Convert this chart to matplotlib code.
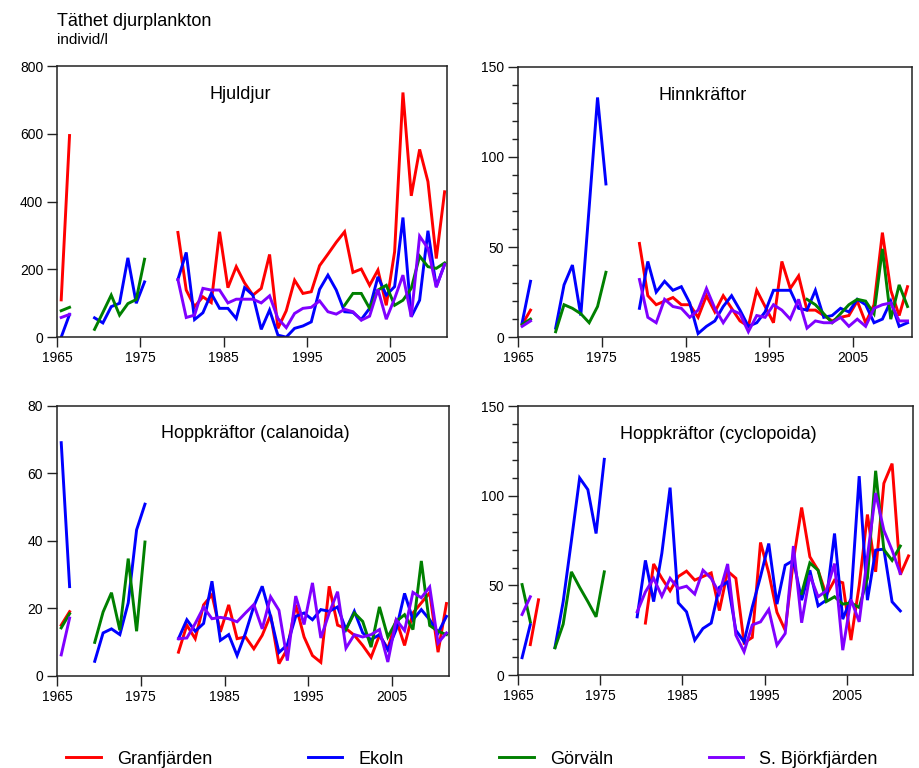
"""Zooplankton density in four Mälaren basins, 1965-2012.

Four panels (rotifers, cladocerans, calanoid and cyclopoid copepods), one line
per basin. Missing years are NaN so the series break into segments.
"""

import matplotlib.pyplot as plt
import numpy as np

plt.rcParams["font.family"] = ["Liberation Sans", "DejaVu Sans"]

n = np.nan

YEARS = np.arange(1965, 2013)
STATIONS = ["Granfjärden", "Ekoln", "Görväln", "S. Björkfjärden"]
COLORS = ["#ff0000", "#0000ff", "#008000", "#8000ff"]

# Hjuldjur (individ/l), 1965..2012
hjul_granfjarden = [
    110, 595, n, n, n, n, n, n, n, n,
    n, n, n, n, 309, 139, 90, 119, 102, 311,
    146, 208, 160, 124, 144, 244, 26, 78, 168, 129,
    134, 211, 245, 280, 311, 191, 201, 153, 198, 94,
    252, 722, 417, 554, 459, 232, 429, n,
]
hjul_ekoln = [
    0, 67, n, n, 57, 42, 90, 100, 234, 100,
    163, n, n, n, 170, 250, 52, 72, 129, 85,
    85, 55, 146, 124, 23, 80, 6, 0, 26, 33,
    45, 141, 183, 139, 75, 73, 52, 85, 178, 124,
    149, 353, 60, 109, 314, 149, 215, n,
]
hjul_gorvaln = [
    78, 88, n, n, 23, 73, 124, 65, 99, 111,
    230, n, n, n, n, n, n, n, n, n,
    n, n, n, n, n, n, n, n, n, n,
    n, n, n, n, 94, 129, 129, 85, 139, 153,
    94, 109, 144, 239, 208, 203, 219, n,
]
hjul_bjorkfjarden = [
    58, 67, n, n, n, n, n, n, n, n,
    n, n, n, n, 170, 58, 65, 144, 139, 139,
    101, 112, 112, 112, 101, 122, 55, 28, 70, 85,
    88, 107, 75, 68, 82, 75, 50, 62, 141, 53,
    114, 183, 60, 298, 262, 147, 215, n,
]

# Hinnkräftor
hinn_granfjarden = [
    7, 15, n, n, n, n, n, n, n, n,
    n, n, n, n, 52, 23, 18, 20, 22, 18,
    18, 11, 23, 14, 23, 16, 9, 6, 26, 17,
    8, 42, 27, 34, 15, 15, 12, 9, 11, 12,
    20, 8, 18, 58, 26, 12, 28, n,
]
hinn_ekoln = [
    8, 31, n, n, 5, 29, 40, 12, 72, 133,
    85, n, n, n, 16, 42, 25, 31, 26, 28,
    19, 2, 6, 9, 17, 23, 15, 6, 8, 14,
    26, 26, 26, 16, 15, 26, 11, 12, 16, 14,
    21, 18, 8, 10, 20, 6, 8, n,
]
hinn_gorvaln = [
    7, 10, n, n, 3, 18, 16, 13, 8, 17,
    36, n, n, n, n, n, n, n, n, n,
    n, n, n, n, n, n, n, n, n, n,
    n, n, n, n, 21, 18, 13, 8, 13, 18,
    21, 20, 13, 49, 10, 29, 17, n,
]
hinn_bjorkfjarden = [
    6, 9, n, n, n, n, n, n, n, n,
    n, n, n, n, 32, 11, 8, 21, 17, 16,
    11, 15, 27, 16, 8, 15, 13, 3, 12, 11,
    18, 15, 10, 21, 5, 9, 8, 8, 11, 6,
    10, 6, 16, 18, 19, 9, 9, n,
]

# Hoppkräftor (calanoida)
cala_granfjarden = [
    15, 19, n, n, n, n, n, n, n, n,
    n, n, n, n, 7, 15, 11, 21, 24, 13,
    21, 11, 11.5, 8, 12, 18, 3.6, 8, 21, 11.5,
    6, 4, 26.5, 15, 14, 12, 9, 5.5, 12, 8,
    16.6, 9, 18.6, 21.6, 24.6, 7, 21.4, n,
]
cala_ekoln = [
    69, 26.4, n, n, 4.3, 12.7, 13.9, 12.2, 21.6, 43.2,
    50.8, n, n, n, 11, 16.6, 13.2, 15.5, 28, 10.5,
    12.2, 6, 12.6, 20.6, 26.5, 17.6, 6.9, 9.2, 17.6, 18.6,
    16.6, 19.6, 19.1, 20.4, 13.7, 19.1, 12.7, 10.7, 12.2, 7.7,
    13.7, 24.4, 16.6, 19.6, 16.6, 12.7, 17.6, n,
]
cala_gorvaln = [
    14.2, 18.4, n, n, 9.9, 18.9, 24.6, 13.5, 34.7, 13.2,
    39.6, n, n, n, n, n, n, n, n, n,
    n, n, n, n, n, n, n, n, n, n,
    n, n, n, n, 13.7, 18.6, 16.1, 8.5, 20.4, 11.5,
    16.1, 18.1, 13.7, 34, 14.9, 13.2, 12.2, n,
]
cala_bjorkfjarden = [
    6.2, 17.1, n, n, n, n, n, n, n, n,
    n, n, n, n, 11, 11.2, 15.5, 20.3, 16.9, 17.3,
    16.9, 16, 18.6, 21.1, 13.9, 23.4, 19.4, 4.5, 23.6, 15.2,
    27.5, 11.2, 18.6, 24.9, 8.2, 12.2, 11.5, 12.2, 13.7, 4.1,
    16.6, 13.4, 24.7, 23.1, 26.3, 9.7, 12.7, n,
]

# Hoppkräftor (cyclopoida)
cyclo_granfjarden = [
    n, 17, 42, n, n, n, n, n, n, n,
    n, n, n, n, n, 29, 62, 54, 47, 55,
    58, 53, 55, 57, 36, 58, 54, 18, 21, 74,
    57, 35, 25, 64, 93.5, 66, 58.5, 44.6, 53, 51.5,
    19.5, 50, 89.6, 57.6, 107, 118, 56, 66.5,
]
cyclo_ekoln = [
    9.7, 28.2, n, n, 15.4, 41, 75, 110, 103.5, 79,
    120.4, n, n, n, 32.5, 64, 41, 68, 104.6, 40.3,
    35.3, 19.5, 26, 29, 49, 52, 25, 18.6, 38, 55,
    73.4, 39.6, 61.3, 64, 41.8, 58.5, 38.6, 41.8, 79, 31.2,
    42.7, 111, 41.8, 69.7, 70.3, 40.9, 35.8, n,
]
cyclo_gorvaln = [
    50.5, 29.7, n, n, 15.2, 28.4, 57.6, 49, 41, 32.5,
    57.6, n, n, n, n, n, n, n, n, n,
    n, n, n, n, n, n, n, n, n, n,
    n, n, n, n, 45.5, 62.6, 58.5, 41, 43.7, 39.6,
    40.3, 37.7, 54, 114, 70, 64, 72, n,
]
cyclo_bjorkfjarden = [
    33.8, 43.7, n, n, n, n, n, n, n, n,
    n, n, n, n, 35.3, 46.4, 54, 44, 54, 48.3,
    49.6, 45.2, 58.5, 54, 45.5, 62, 22.3, 13, 28, 29.7,
    36.6, 16.7, 23.2, 72, 29.2, 55.7, 43.7, 47, 62.2, 13.9,
    42.2, 29.7, 66, 101.6, 80.8, 69.7, 56.7, n,
]

PANEL_TITLES = [
    "Hjuldjur",
    "Hinnkräftor",
    "Hoppkräftor (calanoida)",
    "Hoppkräftor (cyclopoida)",
]
PANEL_SERIES = [
    [hjul_granfjarden, hjul_ekoln, hjul_gorvaln, hjul_bjorkfjarden],
    [hinn_granfjarden, hinn_ekoln, hinn_gorvaln, hinn_bjorkfjarden],
    [cala_granfjarden, cala_ekoln, cala_gorvaln, cala_bjorkfjarden],
    [cyclo_granfjarden, cyclo_ekoln, cyclo_gorvaln, cyclo_bjorkfjarden],
]
Y_MAX = [800, 150, 80, 150]
Y_STEP = [200, 50, 20, 50]
Y_MINOR = [None, 10, None, 10]
X_MAX = [2011.8, 2012.0, 2011.8, 2013.0]
X_TICKS = [1965, 1975, 1985, 1995, 2005]

# axes rectangles in figure fractions (left, bottom, width, height)
PANEL_RECTS = [
    (0.062, 0.561, 0.424, 0.353),
    (0.563, 0.561, 0.428, 0.352),
    (0.062, 0.120, 0.426, 0.352),
    (0.563, 0.121, 0.429, 0.350),
]


def draw_panel(ax, idx):
    """Draw one taxon panel."""

    for values, color, label in zip(PANEL_SERIES[idx], COLORS, STATIONS):
        ax.plot(YEARS + 0.5, values, color=color, lw=2.1, label=label,
                solid_joinstyle="miter")

    ax.set_xlim(1965, X_MAX[idx])
    ax.set_ylim(0, Y_MAX[idx])
    ax.set_xticks(X_TICKS)
    ax.set_yticks(np.arange(0, Y_MAX[idx] + 1, Y_STEP[idx]))
    if Y_MINOR[idx]:
        ax.set_yticks(np.arange(0, Y_MAX[idx] + 1, Y_MINOR[idx]), minor=True)
    ax.tick_params(which="major", direction="out", length=7, width=1,
                   labelsize=10, pad=3, color="#222222")
    ax.tick_params(which="minor", direction="out", length=4, width=1,
                   color="#222222")
    for spine in ax.spines.values():
        spine.set_linewidth(1.1)
        spine.set_color("#222222")

    tx = 0.47 if idx < 2 else 0.507
    ax.text(tx, 0.895, PANEL_TITLES[idx], transform=ax.transAxes,
            ha="center", va="center", fontsize=13)


fig = plt.figure(figsize=(9.2, 7.68), dpi=100)
axes = [fig.add_axes(rect) for rect in PANEL_RECTS]
for i, ax in enumerate(axes):
    draw_panel(ax, i)

fig.text(57 / 920, 1 - 26 / 768, "Täthet djurplankton", fontsize=13,
         ha="left", va="baseline")
fig.text(57 / 920, 1 - 44 / 768, "individ/l", fontsize=11,
         ha="left", va="baseline")

handles, labels = axes[0].get_legend_handles_labels()
fig.legend(handles, labels, loc="center", bbox_to_anchor=(0.513, 1 - 759 / 768),
           ncol=4, frameon=False, fontsize=13, handlelength=1.9,
           handletextpad=0.9, columnspacing=5.3)

fig.savefig("out.png", dpi=100)
